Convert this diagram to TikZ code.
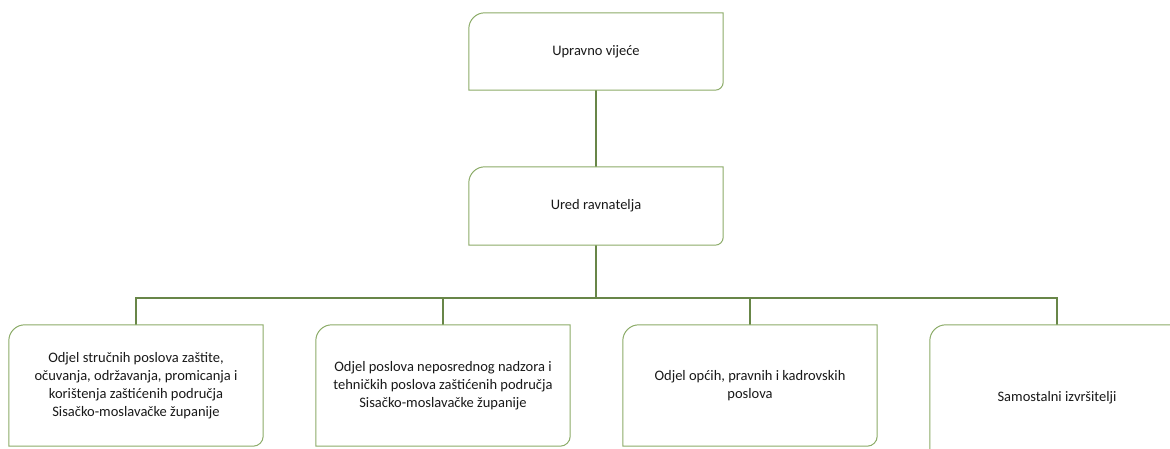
\documentclass[tikz,border=0pt]{standalone}
\usepackage{fontspec}
\setmainfont{Carlito}
\definecolor{boxgreen}{RGB}{140,172,104}
\definecolor{linegreen}{RGB}{104,134,72}
\definecolor{txt}{RGB}{25,25,25}
\newcommand\orgshape[3]{%
  \draw[boxline] (#1.south west) -- ([yshift=-#2]#1.north west)
    arc[start angle=180,end angle=90,radius=#2] -- (#1.north east)
    -- ([yshift=#3]#1.south east)
    arc[start angle=0,end angle=-90,radius=#3] -- cycle;}
\begin{document}
\begin{tikzpicture}[x=1pt,y=-1pt,
  orgbox/.style={draw=none,fill=none,inner sep=0pt,align=center,text=txt,
    font=\fontsize{14.5}{18}\selectfont},
  boxline/.style={draw=boxgreen,line width=1pt,fill=white},
  conn/.style={draw=linegreen,line width=1.3pt}]
\clip (0,0) rectangle (1170,449);
\fill[white] (0,0) rectangle (1170,449);
% nodes
\node[orgbox,minimum width=254pt,minimum height=77pt] (uv) at (596,51.5) {};
\node[orgbox,minimum width=254pt,minimum height=78pt] (ur) at (596,206) {};
\node[orgbox,minimum width=254pt,minimum height=121pt] (o1) at (136,385.5) {};
\node[orgbox,minimum width=254pt,minimum height=121pt] (o2) at (443,385.5) {};
\node[orgbox,minimum width=254pt,minimum height=121pt] (o3) at (750,385.5) {};
\node[orgbox,minimum width=254pt,minimum height=146pt] (o4) at (1057,398) {};
\coordinate (bus) at (596,298);
% connectors
\draw[conn] (uv.south) -- (ur.north);
\draw[conn] (ur.south) -- (bus);
\draw[conn] (o1.north) |- (bus);
\draw[conn] (o4.north) |- (bus);
\draw[conn] (o2.north) -- (o2.north |- bus);
\draw[conn] (o3.north) -- (o3.north |- bus);
% shapes
\orgshape{uv}{16pt}{8pt}
\orgshape{ur}{16pt}{8pt}
\orgshape{o1}{16pt}{10pt}
\orgshape{o2}{16pt}{10pt}
\orgshape{o3}{16pt}{10pt}
\orgshape{o4}{16pt}{10pt}
% texts
\node[orgbox] (tuv) at (uv.center) {Upravno vijeće};
\node[orgbox] (tur) at (ur.center) {Ured ravnatelja};
\node[orgbox] (to1) at (o1.center) {Odjel stručnih poslova zaštite,\\očuvanja, održavanja, promicanja i\\korištenja zaštićenih područja\\Sisačko-moslavačke županije};
\node[orgbox] (to2) at (o2.center) {Odjel poslova neposrednog nadzora i\\tehničkih poslova zaštićenih područja\\Sisačko-moslavačke županije};
\node[orgbox] (to3) at (o3.center) {Odjel općih, pravnih i kadrovskih\\poslova};
\node[orgbox] (to4) at (o4.center) {Samostalni izvršitelji};
\end{tikzpicture}
\end{document}
